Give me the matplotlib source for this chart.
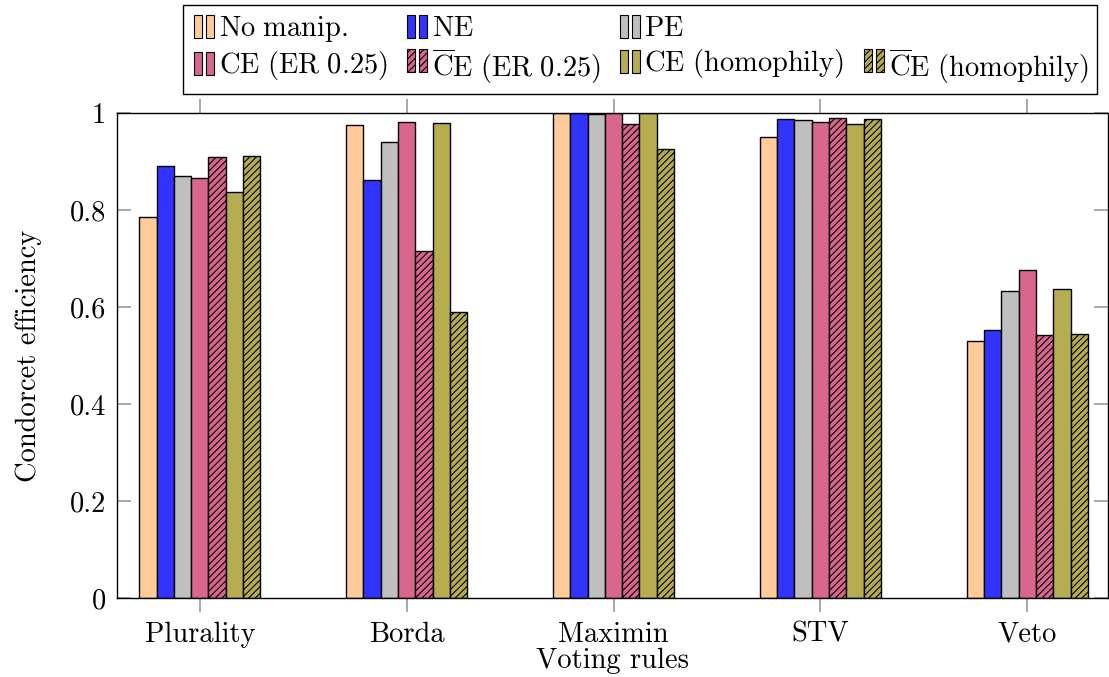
import numpy as np
import matplotlib
matplotlib.use("Agg")
import matplotlib.pyplot as plt
from matplotlib.patches import Rectangle
from matplotlib.lines import Line2D
from matplotlib.legend_handler import HandlerBase

rules = ["Plurality", "Borda", "Maximin", "STV", "Veto"]

no_manip = [0.785, 0.975, 1.000, 0.950, 0.530]
ne = [0.890, 0.862, 1.000, 0.988, 0.552]
pe = [0.870, 0.941, 0.997, 0.986, 0.634]
ce_er = [0.866, 0.981, 1.000, 0.981, 0.676]
cebar_er = [0.909, 0.715, 0.977, 0.990, 0.542]
ce_hom = [0.838, 0.979, 1.000, 0.977, 0.637]
cebar_hom = [0.911, 0.589, 0.926, 0.988, 0.545]

# labels as mathtext so every legend row lines up the same way
series = [
    (r"$\mathrm{No\ manip.}$", no_manip, "#FFCC99", None),
    (r"$\mathrm{NE}$", ne, "#3333FF", None),
    (r"$\mathrm{PE}$", pe, "#BFBFBF", None),
    (r"$\mathrm{CE\ (ER\ 0.25)}$", ce_er, "#D9668C", None),
    (r"$\overline{\mathrm{C}}\mathrm{E\ (ER\ 0.25)}$", cebar_er, "#D9668C", "/////"),
    (r"$\mathrm{CE\ (homophily)}$", ce_hom, "#B5AD50", None),
    (r"$\overline{\mathrm{C}}\mathrm{E\ (homophily)}$", cebar_hom, "#B5AD50", "/////"),
]

FS = 20.5

plt.rcParams["font.family"] = "cmr10"
plt.rcParams["mathtext.fontset"] = "cm"
plt.rcParams["axes.formatter.use_mathtext"] = True
plt.rcParams["hatch.linewidth"] = 0.8


class TwoBars(HandlerBase):
    # pgfplots style legend image: two small bars side by side
    def create_artists(self, legend, orig, xdescent, ydescent, width, height, fontsize, trans):
        arts = []
        w = 5.5
        # the overline (hatched) labels sit lower in the packer, lift their handle
        lift = 5.0 if orig.get_hatch() else 0.0
        for i in range(2):
            r = Rectangle((-xdescent + 2 + i * 8.5, -ydescent - height * 0.1 + lift),
                          w, height * 1.15,
                          facecolor=orig.get_facecolor(), edgecolor="black",
                          hatch=orig.get_hatch(), linewidth=0.8, transform=trans)
            arts.append(r)
        return arts


fig = plt.figure(figsize=(11.09, 6.77), dpi=100)
ax = fig.add_axes([117 / 1109, 79 / 677, 991 / 1109, 485 / 677])

x = np.arange(len(rules))
bw = 0.0836
handles = []
for i, (label, vals, color, hatch) in enumerate(series):
    bars = ax.bar(x + (i - 3) * bw, vals, bw, color=color, edgecolor="black",
                  linewidth=1.0, hatch=hatch, label=label)
    handles.append(bars.patches[0])

ax.set_xlim(-0.4, 4.39)
ax.set_ylim(0, 1)
ax.set_xticks(x)
ax.set_xticklabels(rules)
ax.set_yticks([0, 0.2, 0.4, 0.6, 0.8, 1.0])
ax.set_yticklabels(["0", "0.2", "0.4", "0.6", "0.8", "1"])
ax.tick_params(axis="x", direction="out", length=10, color="#999999", top=True,
               labelsize=FS, width=1.2, pad=7)
ax.tick_params(axis="y", direction="in", length=10, color="#999999", right=True,
               labelsize=FS, width=1.2, pad=8)
for s in ax.spines.values():
    s.set_linewidth(1.0)
ax.set_xlabel("Voting rules", fontsize=FS, labelpad=0)
ax.set_ylabel("Condorcet efficiency", fontsize=FS, labelpad=20)

# legend laid out column by column, with a blank slot after PE
blank = Line2D([], [], linestyle="none")
order = [handles[0], handles[3], handles[1], handles[4],
         handles[2], handles[5], blank, handles[6]]
labels = [series[0][0], series[3][0], series[1][0], series[4][0],
          series[2][0], series[5][0], "", series[6][0]]
leg = fig.legend(order, labels, ncol=4, loc="upper center",
                 bbox_to_anchor=(640 / 1109, 1 - 5 / 677), fontsize=FS,
                 handler_map={Rectangle: TwoBars()}, handlelength=0.85,
                 handletextpad=0.1, columnspacing=0.6, labelspacing=0.18,
                 borderpad=0.3, borderaxespad=0, frameon=True, fancybox=False,
                 edgecolor="black", framealpha=1)
leg.get_frame().set_linewidth(1.0)

fig.savefig("out.png", dpi=100)
